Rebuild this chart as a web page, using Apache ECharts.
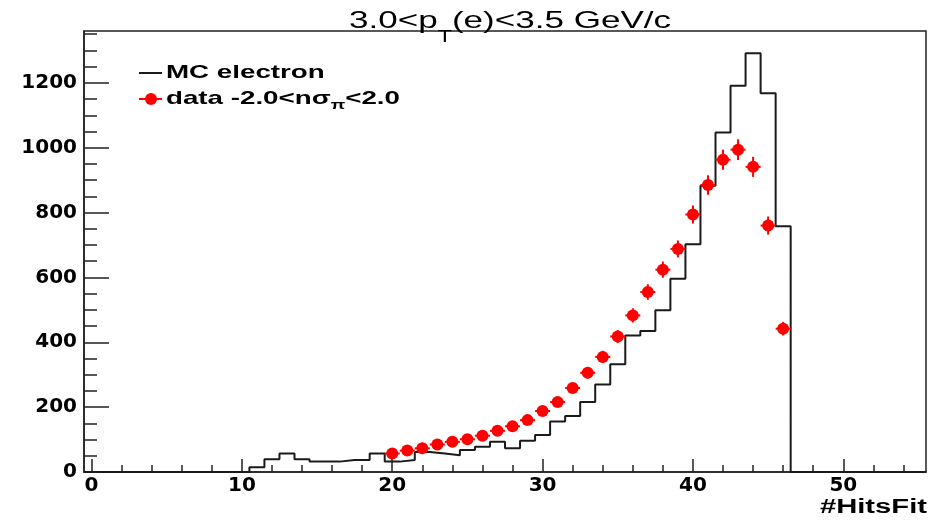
<!DOCTYPE html>
<html><head><meta charset="utf-8">
<script src="https://cdn.jsdelivr.net/npm/echarts@6/dist/echarts.min.js"></script>
<style>html,body{margin:0;padding:0;background:#fff}#c{width:935px;height:523px}</style>
</head><body><div id="c"></div>
<script>
// ---- data ----
const mcBins = [0,1,2,3,4,5,6,7,8,9,10,11,12,13,14,15,16,17,18,19,20,21,22,23,24,25,26,27,28,29,30,31,32,33,34,35,36,37,38,39,40,41,42,43,44,45,46,47,48,49,50,51,52,53,54,55];
const mcCounts = [0,0,0,0,0,0,0,0,0,0,0,15,39,57,39,32,32,37,37,57,32,37,62,57,52,68,78,93,73,96,114,156,173,216,270,332,421,435,499,596,702,883,1047,1191,1291,1168,758,0,0,0,0,0,0,0,0,0];
const dataBins = [20,21,22,23,24,25,26,27,28,29,30,31,32,33,34,35,36,37,38,39,40,41,42,43,44,45,46];
const dataCounts = [57,66,73,85,93,101,112,127,141,160,188,216,259,306,355,418,483,555,624,688,794,885,963,994,941,760,442];
const dataErrors = [8,8,9,9,10,10,11,11,12,13,14,15,16,18,19,20,22,24,25,26,28,30,31,32,31,28,21];
const xTickLabels = [0,10,20,30,40,50];
const yTickLabels = [0,200,400,600,800,1000,1200];
const titleParts = ['3.0<p', 'T', '(e)<3.5 GeV/c'];
const legendMC = 'MC electron';
const legendDataParts = ['data -2.0<n\u03c3', '\u03c0', '<2.0'];
const xTitle = '#HitsFit';

// ---- chart ----
const X_MIN = -0.5, X_MAX = 55.5, Y_MAX = 1360;
const xMinor = [], yMinor = [];
for (let v = 2; v < X_MAX; v += 2) if (v % 10 !== 0) xMinor.push(v);
for (let v = 50; v < Y_MAX; v += 50) if (v % 200 !== 0) yMinor.push(v);

const mcLine = [];
mcBins.forEach((b, i) => { mcLine.push([b - 0.5, mcCounts[i]]); mcLine.push([b + 0.5, mcCounts[i]]); });
const pts = dataBins.map((b, i) => [b, dataCounts[i], dataErrors[i]]);

const SX = 1.46;
const cv = document.createElement('canvas').getContext('2d');
function tw(t, font) { cv.font = font; return cv.measureText(t).width; }
const F = '"Liberation Sans", Arial, sans-serif';
const BOLD = '"DejaVu Sans", sans-serif';

const tf = 24, tsf = 16;
const wA = tw(titleParts[0], tf + 'px ' + F), wT = tw(titleParts[1], tsf + 'px ' + F), wB = tw(titleParts[2], tf + 'px ' + F);
const tTot = (wA + wT + wB) * SX;
const lf = 19, lsf = 13;
const wD1 = tw(legendDataParts[0], 'bold ' + lf + 'px ' + F), wD2 = tw(legendDataParts[1], 'bold ' + lsf + 'px ' + F);

const chart = echarts.init(document.getElementById('c'), null, {renderer: 'canvas'});
const AX = '#222';
const plain = v => String(v);
chart.setOption({
  animation: false,
  backgroundColor: '#fff',
  grid: {left: 84, right: 9, top: 31, bottom: 51, show: true, borderColor: AX, borderWidth: 1.5, backgroundColor: 'transparent'},
  xAxis: [
    {type: 'value', min: X_MIN, max: X_MAX, position: 'bottom', offset: 0, splitLine: {show: false},
      axisLine: {show: true, onZero: false, lineStyle: {color: AX, width: 1.5}},
      axisTick: {show: true, inside: true, length: 13, customValues: xTickLabels, lineStyle: {color: AX, width: 1.5}},
      axisLabel: {show: true, customValues: xTickLabels, formatter: plain, margin: 4, fontFamily: BOLD, fontWeight: 'bold', fontSize: 20, color: '#000'}},
    {type: 'value', min: X_MIN, max: X_MAX, position: 'bottom', offset: 0, splitLine: {show: false},
      axisLine: {show: false, onZero: false},
      axisTick: {show: true, inside: true, length: 7, customValues: xMinor, lineStyle: {color: AX, width: 1.5}},
      axisLabel: {show: false}}
  ],
  yAxis: [
    {type: 'value', min: 0, max: Y_MAX, position: 'left', offset: 0, splitLine: {show: false},
     axisLine: {show: true, onZero: false, lineStyle: {color: AX, width: 1.5}},
     axisTick: {show: true, inside: true, length: 25, customValues: yTickLabels, lineStyle: {color: AX, width: 1.5}},
     axisLabel: {show: true, customValues: yTickLabels, formatter: plain, margin: 7, fontFamily: BOLD, fontWeight: 'bold', fontSize: 20, color: '#000'}},
    {type: 'value', min: 0, max: Y_MAX, position: 'left', offset: 0, splitLine: {show: false},
     axisLine: {show: false, onZero: false},
     axisTick: {show: true, inside: true, length: 13, customValues: yMinor, lineStyle: {color: AX, width: 1.5}},
     axisLabel: {show: false}}
  ],
  series: [
    {name: legendMC, type: 'line', xAxisIndex: 0, yAxisIndex: 0, data: mcLine, showSymbol: false, symbol: 'none',
     lineStyle: {color: '#1a1a1a', width: 2}, z: 2, silent: true},
    {name: 'dataErr', type: 'custom', xAxisIndex: 0, yAxisIndex: 0, data: pts, z: 3, silent: true,
     renderItem: function (params, api) {
       const x = api.value(0), y = api.value(1), e = api.value(2);
       const t = api.coord([x, y + e]), b = api.coord([x, y - e]);
       const l = api.coord([x - 0.5, y]), r = api.coord([x + 0.5, y]);
       return {type: 'group', children: [
         {type: 'line', shape: {x1: t[0], y1: t[1], x2: b[0], y2: b[1]}, style: {stroke: '#ff0000', lineWidth: 2}},
         {type: 'line', shape: {x1: l[0], y1: l[1], x2: r[0], y2: r[1]}, style: {stroke: '#ff0000', lineWidth: 2}}
       ]};
     }},
    {name: 'data', type: 'scatter', xAxisIndex: 0, yAxisIndex: 0, data: pts.map(p => [p[0], p[1]]),
     symbol: 'circle', symbolSize: 12, itemStyle: {color: '#ff0000', opacity: 1}, z: 4, silent: true}
  ],
  graphic: [
    {type: 'group', x: 510 - tTot / 2, y: 0, scaleX: SX, children: [
      {type: 'text', x: 0, y: 21, style: {text: titleParts[0], font: tf + 'px ' + F, fill: '#000', verticalAlign: 'middle', align: 'left'}},
      {type: 'text', x: wA, y: 38, style: {text: titleParts[1], font: tsf + 'px ' + F, fill: '#000', verticalAlign: 'middle', align: 'left'}},
      {type: 'text', x: wA + wT, y: 21, style: {text: titleParts[2], font: tf + 'px ' + F, fill: '#000', verticalAlign: 'middle', align: 'left'}}
    ]},
    {type: 'line', shape: {x1: 139, y1: 73, x2: 162, y2: 73}, style: {stroke: '#1a1a1a', lineWidth: 2}},
    {type: 'line', shape: {x1: 139, y1: 99, x2: 162, y2: 99}, style: {stroke: '#ff0000', lineWidth: 2}},
    {type: 'circle', shape: {cx: 151, cy: 99, r: 6}, style: {fill: '#ff0000'}},
    {type: 'group', x: 166, y: 0, scaleX: SX, children: [
      {type: 'text', x: 0, y: 73, style: {text: legendMC, font: 'bold ' + lf + 'px ' + F, fill: '#000', verticalAlign: 'middle'}},
      {type: 'text', x: 0, y: 99, style: {text: legendDataParts[0], font: 'bold ' + lf + 'px ' + F, fill: '#000', verticalAlign: 'middle'}},
      {type: 'text', x: wD1, y: 105, style: {text: legendDataParts[1], font: 'bold ' + lsf + 'px ' + F, fill: '#000', verticalAlign: 'middle'}},
      {type: 'text', x: wD1 + wD2, y: 99, style: {text: legendDataParts[2], font: 'bold ' + lf + 'px ' + F, fill: '#000', verticalAlign: 'middle'}}
    ]},
    {type: 'group', x: 927, y: 0, scaleX: SX, children: [
      {type: 'text', x: 0, y: 507, style: {text: xTitle, font: 'bold 20px ' + F, fill: '#000', verticalAlign: 'middle', align: 'right'}}
    ]}
  ]
});
</script>
</body></html>
